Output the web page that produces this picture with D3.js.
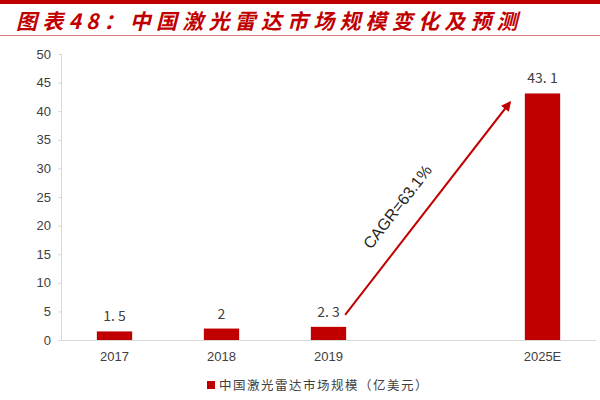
<!DOCTYPE html>
<html><head><meta charset="utf-8">
<script src="https://cdn.jsdelivr.net/npm/d3@7"></script>
<style>body{margin:0;background:#fff;} svg{display:block;}</style>
</head><body>
<svg id="c" width="600" height="400"></svg>
<script>
const categories = ["2017", "2018", "2019", "", "2025E"];
const values = [1.5, 2, 2.3, null, 43.1];
const yTicks = [0, 5, 10, 15, 20, 25, 30, 35, 40, 45, 50];
const titleText = "图表48：中国激光雷达市场规模变化及预测";
const legendText = "中国激光雷达市场规模（亿美元）";
const cagrText = "CAGR=63.1%";

const svg = d3.select("#c");
const red = "#C00000";
const margin = {left: 61, right: 4, top: 54, bottom: 60};
const W = 600, H = 400;

// title decoration
svg.append("rect").attr("x", 0).attr("y", 0).attr("width", W).attr("height", 4).attr("fill", red);
svg.append("line").attr("x1", 0).attr("x2", W).attr("y1", 35.5).attr("y2", 35.5).attr("stroke", "#d77").attr("stroke-width", 1);
svg.append("text").attr("x", 16).attr("y", 29)
  .attr("font-family", "'Noto Sans CJK SC'").attr("font-size", 21).attr("font-style", "italic")
  .attr("font-weight", "bold").attr("fill", red).attr("letter-spacing", 5.2)
  .text(titleText);

const x = d3.scaleBand().domain(categories).range([margin.left, W - margin.right]).paddingInner(0.67).paddingOuter(0.335);
const y = d3.scaleLinear().domain([0, 50]).range([340, 54]);

// y axis
const yAxis = svg.append("g").attr("transform", `translate(${margin.left},0)`)
  .call(d3.axisLeft(y).tickValues(yTicks).tickSize(3).tickPadding(7));
yAxis.select(".domain").attr("stroke", "#d9d9d9");
yAxis.selectAll(".tick line").attr("stroke", "#d9d9d9");
yAxis.selectAll(".tick text").attr("font-family", "Arial, 'Liberation Sans'").attr("font-size", 13).attr("fill", "#404040");

// x axis
const xAxis = svg.append("g").attr("transform", `translate(0,340)`)
  .call(d3.axisBottom(x).tickSize(0).tickPadding(12));
xAxis.select(".domain").attr("stroke", "#d9d9d9").attr("d", `M${margin.left},0.5H${W - margin.right}`);
xAxis.selectAll(".tick text").attr("font-family", "Arial, 'Liberation Sans'").attr("font-size", 13).attr("fill", "#404040");

const data = categories.map((c, i) => ({c, v: values[i]})).filter(d => d.v != null);

svg.append("g").selectAll("rect").data(data).join("rect")
  .attr("x", d => x(d.c)).attr("width", x.bandwidth())
  .attr("y", d => y(d.v)).attr("height", d => y(0) - y(d.v))
  .attr("fill", red);

const fmt = v => String(v).replace(".", ". ");
svg.append("g").selectAll("text").data(data).join("text")
  .attr("x", d => x(d.c) + x.bandwidth() / 2).attr("y", d => y(d.v) - 10)
  .attr("text-anchor", "middle").attr("font-family", "'Noto Sans CJK SC', Arial").attr("font-size", 14)
  .attr("fill", "#404040").text(d => fmt(d.v));

// CAGR arrow from 2019 to 2025E
svg.append("defs").append("marker").attr("id", "ah").attr("viewBox", "0 0 10 10")
  .attr("refX", 8).attr("refY", 5).attr("markerWidth", 5).attr("markerHeight", 5).attr("orient", "auto")
  .append("path").attr("d", "M0,0L10,5L0,10z").attr("fill", red);
const x1 = x("2019") + x.bandwidth() - 1, y1 = y(2.3) - 12;
const x2 = x("2025E") - 15, y2 = y(43.1) + 9;
svg.append("line").attr("x1", x1).attr("y1", y1).attr("x2", x2).attr("y2", y2)
  .attr("stroke", red).attr("stroke-width", 2).attr("marker-end", "url(#ah)");
const ang = Math.atan2(y2 - y1, x2 - x1) * 180 / Math.PI;
const mx = (x1 + x2) / 2 - 29, my = (y1 + y2) / 2 - 1;
svg.append("text").attr("transform", `translate(${mx},${my}) rotate(${ang})`)
  .attr("text-anchor", "middle").attr("dominant-baseline", "middle").attr("font-family", "Arial, 'Liberation Sans'").attr("font-size", 16)
  .attr("fill", "#262626").text(cagrText);

// legend
svg.append("rect").attr("x", 207).attr("y", 381).attr("width", 8).attr("height", 8).attr("fill", red);
svg.append("text").attr("x", 219).attr("y", 389.5).attr("font-family", "'Noto Sans CJK SC'").attr("font-size", 12.5)
  .attr("fill", "#404040").attr("letter-spacing", 1.5).text(legendText);
</script>
</body></html>
